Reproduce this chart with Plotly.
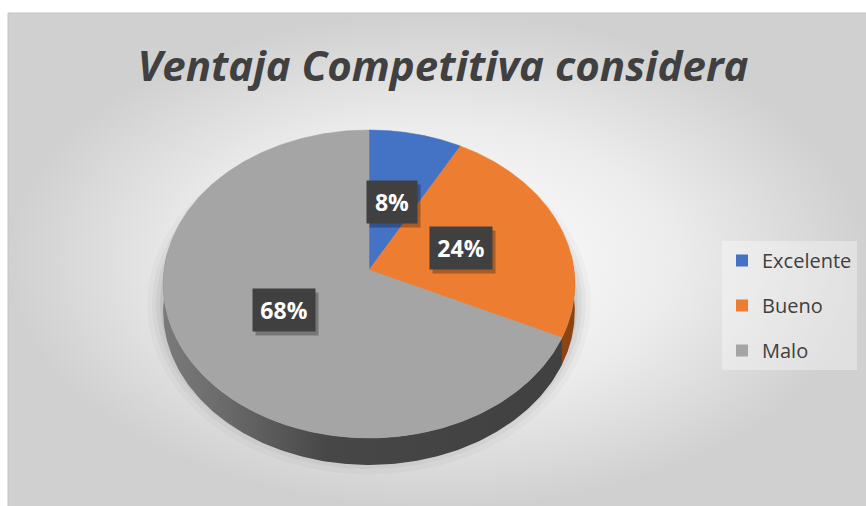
import numpy as np
import plotly.graph_objects as go

# ---------------- data ----------------
categories = ["Excelente", "Bueno", "Malo"]
values = [8, 24, 68]
label_text = ["8%", "24%", "68%"]
top_colors = ["#4472C4", "#ED7D31", "#A5A5A5"]
side_colors = ["#2b4a80", "#8a4512", "#454545"]
title_text = "Ventaja Competitiva considera"

# ---------------- geometry (pixels) ----------------
W, H = 866, 506
CX, CY = 369, 270      # pie vertex
RX = 205               # horizontal radius
AY = 152.7             # vertical scale
PB = -0.0909           # perspective factor
DEPTH = 27             # thickness of pie
LABEL_R = 0.48


def proj(theta_deg, f=1.0):
    t = np.radians(np.asarray(theta_deg, dtype=float))
    u = f * np.sin(t)
    v = -f * np.cos(t)
    s = 1 + PB * v
    return CX + RX * u / s, CY + AY * v / s


total = float(sum(values))
bounds = np.concatenate([[0], np.cumsum(values) / total * 360.0])

fig = go.Figure()

# background with radial gradient
fig.add_trace(go.Scatter(
    x=[8, W + 2, W + 2, 8, 8], y=[13, 13, H + 2, H + 2, 13],
    mode="lines", fill="toself",
    fillgradient=dict(type="radial",
                      colorscale=[[0, "#ffffff"], [0.55, "#ececec"], [1, "#d0d0d0"]]),
    line=dict(color="#c4c4c4", width=1),
    hoverinfo="skip", showlegend=False))

# soft shadow around pie rim
for k, a in [(16, 0.025), (11, 0.035), (7, 0.045), (3, 0.06)]:
    th = np.linspace(0, 360, 361)
    sx, sy = proj(th)
    sx = CX + (sx - CX) * (1 + k / RX)
    sy = CY + (sy - CY) * (1 + k / AY) + DEPTH * 0.7
    fig.add_trace(go.Scatter(x=sx, y=sy, mode="lines", fill="toself",
                             fillcolor=f"rgba(0,0,0,{a})", line=dict(width=0),
                             hoverinfo="skip", showlegend=False))

# sides (visible front rim only)
VIS0, VIS1 = 84.0, 276.0
for i, cat in enumerate(categories):
    a0, a1 = max(bounds[i], VIS0), min(bounds[i + 1], VIS1)
    if a1 <= a0:
        continue
    th = np.linspace(a0, a1, 200)
    tx, ty = proj(th)
    xs = np.concatenate([tx, tx[::-1], tx[:1]])
    ys = np.concatenate([ty, ty[::-1] + DEPTH, ty[:1]])
    kw = {}
    if cat == "Malo":
        kw["fillgradient"] = dict(type="horizontal",
                                  colorscale=[[0, "#7a7a7a"], [0.15, "#6a6a6a"],
                                              [0.4, "#474747"], [1, "#404040"]],
                                  start=CX - RX, stop=CX + RX)
    else:
        kw["fillcolor"] = side_colors[i]
    fig.add_trace(go.Scatter(x=xs, y=ys, mode="lines", fill="toself",
                             line=dict(width=0), hoverinfo="skip",
                             showlegend=False, **kw))

# top faces
for i, cat in enumerate(categories):
    th = np.linspace(bounds[i], bounds[i + 1], 300)
    tx, ty = proj(th)
    xs = np.concatenate([[CX], tx, [CX]])
    ys = np.concatenate([[CY], ty, [CY]])
    fig.add_trace(go.Scatter(x=xs, y=ys, mode="lines", fill="toself",
                             fillcolor=top_colors[i],
                             line=dict(color=top_colors[i], width=0.6),
                             name=cat, hoverinfo="name", showlegend=False))

# legend entries
for i, cat in enumerate(categories):
    fig.add_trace(go.Scatter(x=[None], y=[None], mode="markers",
                             marker=dict(symbol="square", size=14, color=top_colors[i]),
                             name=cat, legendgroup=cat, showlegend=True))

# data labels (box shadow + label)
for i, cat in enumerate(categories):
    mid = (bounds[i] + bounds[i + 1]) / 2
    lx, ly = proj(mid, LABEL_R)
    w = 38 if len(label_text[i]) == 2 else 50
    fig.add_annotation(x=float(lx), y=float(ly), xref="x", yref="y", showarrow=False,
                       text=" ", width=w, height=30, borderpad=6,
                       font=dict(family="Open Sans", size=23),
                       bgcolor="rgba(0,0,0,0.28)", xshift=3, yshift=-4)
    fig.add_annotation(x=float(lx), y=float(ly), xref="x", yref="y", showarrow=False,
                       text=label_text[i], width=w, height=30, borderpad=6,
                       font=dict(family="Open Sans", size=23, weight="bold",
                                 color="white"),
                       bgcolor="#404040")

fig.update_layout(
    width=W, height=H,
    margin=dict(l=0, r=0, t=0, b=0),
    paper_bgcolor="white", plot_bgcolor="rgba(0,0,0,0)",
    xaxis=dict(range=[0, W], visible=False, fixedrange=True),
    yaxis=dict(range=[H, 0], visible=False, fixedrange=True),
    title=dict(text=title_text, x=443 / W, xanchor="center", y=1 - 66 / H,
               yanchor="middle",
               font=dict(family="Open Sans", size=42, color="#404040",
                         weight="bold", style="italic")),
    legend=dict(x=722 / W, y=1 - 241 / H, xanchor="left", yanchor="top",
                bgcolor="rgba(255,255,255,0.35)",
                font=dict(family="Open Sans", size=20, color="#404040"),
                traceorder="grouped", tracegroupgap=16, itemsizing="constant"),
    showlegend=True,
)

fig.write_html("out.html")
